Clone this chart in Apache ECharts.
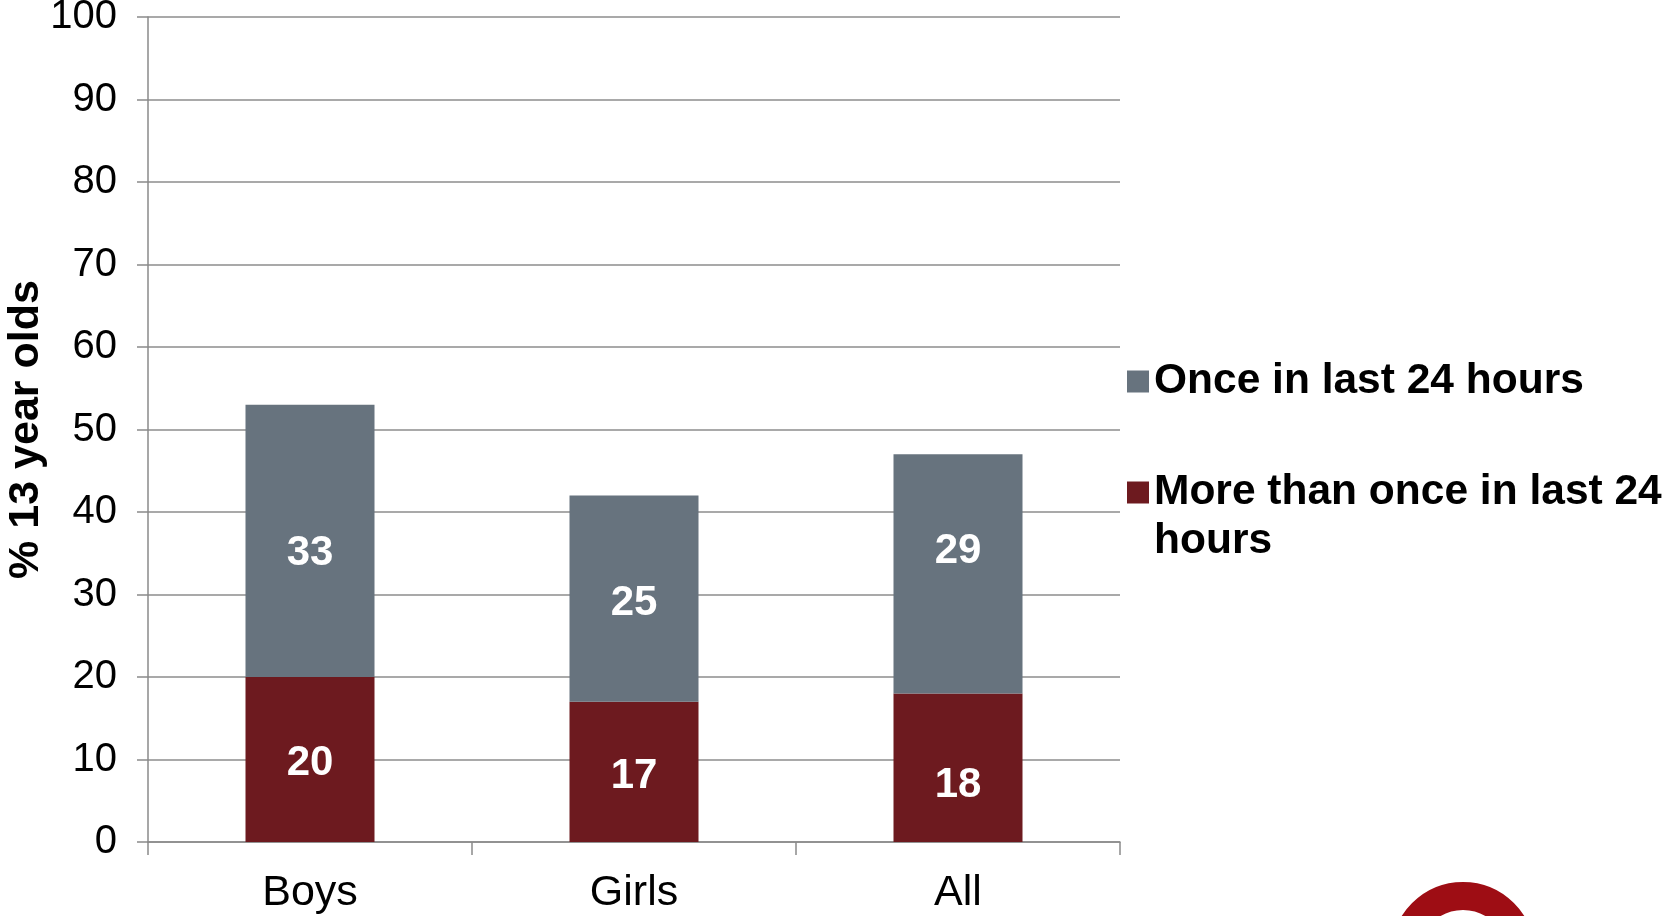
<!DOCTYPE html>
<html>
<head>
<meta charset="utf-8">
<script src="https://cdn.jsdelivr.net/npm/echarts@6/dist/echarts.min.js"></script>
<style>
  html, body { margin: 0; padding: 0; background: #fff; }
  #chart { width: 1667px; height: 916px; }
</style>
</head>
<body>
<div id="chart"></div>
<script>
// categories and values
var categories = ['Boys', 'Girls', 'All'];
var moreThanOnce = [20, 17, 18];
var once = [33, 25, 29];
var yTicks = [0, 10, 20, 30, 40, 50, 60, 70, 80, 90, 100];

// the labels in the original are not exactly centred in their segments
var nudgeMore = [4, 5, 18];
var nudgeOnce = [13, 5, -22];

var FONT = '"Liberation Sans", Arial, sans-serif';
var GREY = '#67737e';
var RED = '#6d1a1f';

var chart = echarts.init(document.getElementById('chart'));

function labelStyle() {
  return {
    show: true,
    position: 'inside',
    color: '#fff',
    fontFamily: FONT,
    fontWeight: 'bold',
    fontSize: 42
  };
}

function withNudge(values, nudge) {
  return values.map(function (v, i) {
    return { value: v, label: { offset: [0, nudge[i]] } };
  });
}

var legendText = { fontFamily: FONT, fontWeight: 'bold', fontSize: 42.5, color: '#000', lineHeight: 49 };

chart.setOption({
  animation: false,
  textStyle: { fontFamily: FONT },
  grid: { left: 148, right: 547, top: 17, bottom: 74, containLabel: false, outerBoundsMode: 'none' },
  legend: [
    {
      data: ['Once in last 24 hours'],
      orient: 'vertical',
      left: 1127,
      top: 357,
      padding: 0,
      icon: 'rect',
      itemWidth: 22,
      itemHeight: 22,
      textStyle: legendText
    },
    {
      data: ['More than once in last 24 hours'],
      orient: 'vertical',
      left: 1127,
      top: 419,
      padding: 0,
      icon: 'rect',
      itemWidth: 22,
      itemHeight: 22,
      // blank first line so the swatch sits beside the first text line
      formatter: function () { return ' \nMore than once in last 24\nhours'; },
      textStyle: legendText
    }
  ],
  xAxis: {
    type: 'category',
    data: categories,
    axisLine: { lineStyle: { color: '#8a8a8a', width: 1.5 } },
    axisTick: { show: true, length: 13, lineStyle: { color: '#8a8a8a', width: 1.5 } },
    axisLabel: { color: '#000', fontSize: 43, margin: 30, fontFamily: FONT }
  },
  yAxis: {
    type: 'value',
    min: yTicks[0],
    max: yTicks[yTicks.length - 1],
    interval: 10,
    name: '% 13 year olds',
    nameLocation: 'middle',
    nameGap: 100,
    nameMoveOverlap: false,
    nameTextStyle: { color: '#000', fontSize: 43, fontWeight: 'bold', fontFamily: FONT },
    axisLine: { show: true, lineStyle: { color: '#8a8a8a', width: 1.5 } },
    axisTick: { show: true, length: 11, lineStyle: { color: '#8a8a8a', width: 1.5 } },
    axisLabel: { color: '#000', fontSize: 40, margin: 31, fontFamily: FONT },
    splitLine: { lineStyle: { color: '#8c8c8c', width: 1.5 } }
  },
  series: [
    {
      name: 'More than once in last 24 hours',
      type: 'bar',
      stack: 'total',
      barWidth: 129,
      itemStyle: { color: RED },
      label: labelStyle(),
      data: withNudge(moreThanOnce, nudgeMore)
    },
    {
      name: 'Once in last 24 hours',
      type: 'bar',
      stack: 'total',
      barWidth: 129,
      itemStyle: { color: GREY },
      label: labelStyle(),
      data: withNudge(once, nudgeOnce)
    }
  ],
  graphic: [
    {
      // cut-off logo ring, bottom right
      type: 'circle',
      shape: { cx: 1463, cy: 954, r: 58 },
      style: { fill: 'none', stroke: '#9e0d14', lineWidth: 28 },
      silent: true
    }
  ]
});
</script>
</body>
</html>
